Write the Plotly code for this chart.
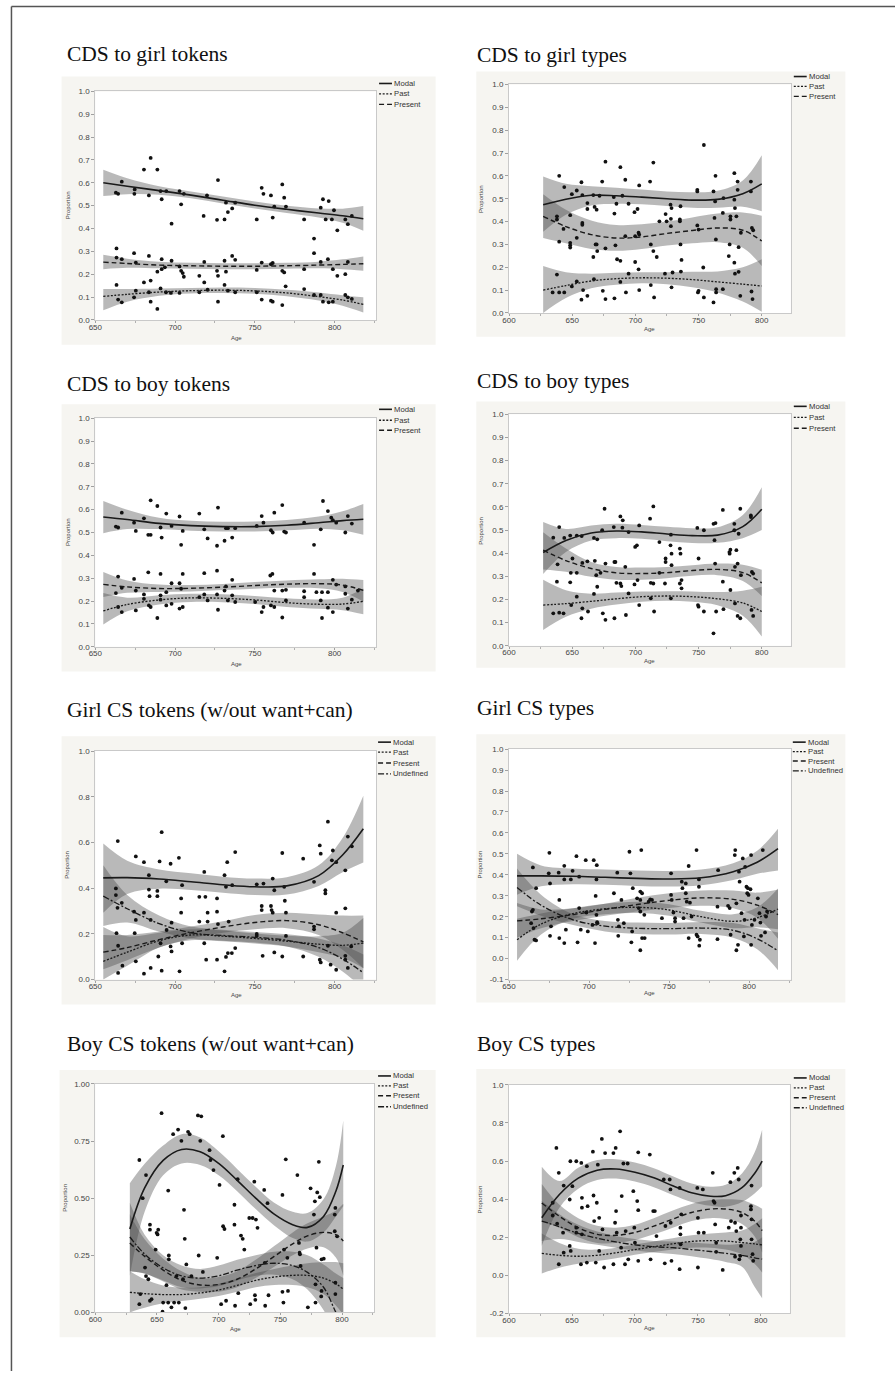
import plotly.graph_objects as go

W, H = 895, 1376

# ---------------- Panel 1: CDS to girl tokens ----------------
p1_age = [655, 670, 690, 710, 730, 750, 770, 790, 805, 818]
p1_modal = [0.600, 0.585, 0.566, 0.546, 0.524, 0.502, 0.484, 0.468, 0.456, 0.443]
p1_modal_lo = [0.542, 0.550, 0.548, 0.532, 0.510, 0.488, 0.468, 0.448, 0.425, 0.390]
p1_modal_hi = [0.657, 0.620, 0.585, 0.562, 0.540, 0.518, 0.500, 0.488, 0.487, 0.498]
p1_past = [0.103, 0.112, 0.122, 0.128, 0.130, 0.127, 0.118, 0.102, 0.087, 0.068]
p1_past_lo = [0.042, 0.080, 0.106, 0.116, 0.118, 0.115, 0.104, 0.085, 0.062, 0.033]
p1_past_hi = [0.135, 0.135, 0.137, 0.140, 0.142, 0.140, 0.132, 0.120, 0.108, 0.099]
p1_present = [0.253, 0.247, 0.240, 0.237, 0.235, 0.235, 0.237, 0.240, 0.243, 0.246]
p1_present_lo = [0.222, 0.228, 0.226, 0.224, 0.222, 0.222, 0.224, 0.226, 0.222, 0.215]
p1_present_hi = [0.285, 0.268, 0.255, 0.250, 0.248, 0.248, 0.250, 0.255, 0.265, 0.278]
p1_points = [
    (662.9, 0.557), (664.3, 0.552), (666.6, 0.605), (674.7, 0.571), (674.5, 0.552), (680.5, 0.658),
    (684.7, 0.709), (683.6, 0.545), (688.9, 0.658), (690.9, 0.564), (691.6, 0.528), (694.5, 0.564),
    (697.8, 0.421), (702.8, 0.564), (703.8, 0.506), (705.5, 0.552), (720.0, 0.545), (717.9, 0.455),
    (726.3, 0.438), (726.9, 0.612), (731.0, 0.440), (731.9, 0.513), (733.1, 0.472), (735.8, 0.488),
    (737.7, 0.513), (751.2, 0.440), (754.3, 0.578), (755.4, 0.552), (760.1, 0.545), (761.2, 0.448),
    (762.2, 0.496), (767.2, 0.593), (768.4, 0.535), (769.5, 0.496), (780.9, 0.440), (787.1, 0.356),
    (791.3, 0.491), (792.7, 0.528), (794.4, 0.440), (796.3, 0.520), (798.3, 0.440), (799.6, 0.480),
    (801.7, 0.392), (806.7, 0.440), (808.3, 0.419), (810.8, 0.455),
    (663.3, 0.313), (663.3, 0.273), (666.6, 0.266), (674.3, 0.292), (675.4, 0.251), (683.6, 0.280),
    (691.6, 0.266), (693.6, 0.230), (688.9, 0.211), (691.6, 0.222), (697.8, 0.259), (702.8, 0.234),
    (703.8, 0.215), (704.8, 0.205), (705.5, 0.189), (715.2, 0.193), (718.3, 0.254), (726.3, 0.215),
    (726.9, 0.193), (731.0, 0.259), (731.9, 0.211), (735.8, 0.280), (737.7, 0.263), (751.2, 0.219),
    (754.3, 0.251), (760.1, 0.244), (761.2, 0.249), (767.2, 0.215), (768.4, 0.208), (780.9, 0.222),
    (787.1, 0.292), (791.3, 0.254), (795.8, 0.266), (798.9, 0.222), (801.7, 0.193), (806.7, 0.200),
    (808.3, 0.254),
    (663.3, 0.153), (664.3, 0.089), (666.6, 0.077), (674.3, 0.099), (675.4, 0.128), (680.5, 0.164),
    (683.6, 0.121), (684.7, 0.172), (684.7, 0.080), (688.9, 0.048), (690.9, 0.138), (694.3, 0.121),
    (697.4, 0.118), (702.8, 0.118), (715.2, 0.121), (718.3, 0.164), (720.4, 0.132), (726.9, 0.080),
    (731.0, 0.153), (733.1, 0.128), (737.7, 0.121), (751.2, 0.121), (754.3, 0.089), (760.1, 0.084),
    (761.2, 0.080), (767.2, 0.065), (769.3, 0.147), (780.9, 0.135), (787.1, 0.109), (791.3, 0.109),
    (792.7, 0.080), (796.3, 0.077), (798.9, 0.080), (806.7, 0.109), (808.3, 0.099), (810.8, 0.092),
]

# ---------------- Panel 2: CDS to girl types ----------------
p2_age = [627, 645, 665, 685, 705, 725, 745, 765, 785, 800]
p2_modal = [0.474, 0.498, 0.515, 0.513, 0.507, 0.500, 0.494, 0.497, 0.522, 0.565]
p2_modal_lo = [0.355, 0.430, 0.470, 0.478, 0.476, 0.468, 0.460, 0.460, 0.465, 0.445]
p2_modal_hi = [0.597, 0.565, 0.555, 0.548, 0.540, 0.532, 0.528, 0.535, 0.580, 0.690]
p2_past = [0.100, 0.120, 0.140, 0.150, 0.154, 0.152, 0.146, 0.136, 0.126, 0.118]
p2_past_lo = [0.000, 0.065, 0.108, 0.124, 0.130, 0.126, 0.112, 0.090, 0.050, 0.005]
p2_past_hi = [0.205, 0.178, 0.172, 0.176, 0.178, 0.178, 0.180, 0.182, 0.200, 0.235]
p2_present = [0.423, 0.378, 0.343, 0.328, 0.333, 0.348, 0.361, 0.372, 0.362, 0.315]
p2_present_lo = [0.328, 0.305, 0.280, 0.272, 0.280, 0.295, 0.305, 0.310, 0.285, 0.205]
p2_present_hi = [0.520, 0.452, 0.405, 0.385, 0.388, 0.400, 0.418, 0.435, 0.440, 0.425]
p2_points = [
    (634.5, 0.090), (637.9, 0.168), (639.7, 0.090), (637.9, 0.423), (637.9, 0.409), (639.7, 0.600),
    (639.7, 0.312), (643.7, 0.090), (643.7, 0.551), (643.1, 0.368), (648.4, 0.307), (648.4, 0.428),
    (648.4, 0.296), (648.4, 0.286), (649.7, 0.116), (649.7, 0.520), (653.6, 0.329), (653.6, 0.536),
    (653.6, 0.138), (657.3, 0.058), (657.3, 0.572), (658.0, 0.516), (658.0, 0.394), (658.0, 0.386),
    (658.6, 0.100), (662.0, 0.075), (662.0, 0.455), (662.0, 0.481), (666.7, 0.516), (666.7, 0.245),
    (667.2, 0.148), (667.7, 0.464), (668.5, 0.300), (669.3, 0.452), (669.3, 0.300), (669.8, 0.271),
    (671.6, 0.513), (673.7, 0.575), (674.2, 0.097), (676.3, 0.061), (676.3, 0.662), (676.3, 0.283),
    (682.9, 0.507), (683.4, 0.064), (683.4, 0.435), (684.2, 0.296), (685.0, 0.478), (685.5, 0.235),
    (688.1, 0.638), (688.1, 0.228), (688.1, 0.136), (689.7, 0.513), (692.0, 0.336), (692.0, 0.583),
    (692.5, 0.090), (694.6, 0.478), (694.6, 0.172), (699.3, 0.441), (699.8, 0.223), (699.8, 0.336),
    (701.7, 0.455), (702.5, 0.191), (702.5, 0.351), (703.0, 0.558), (703.0, 0.100), (703.0, 0.343),
    (711.6, 0.575), (712.2, 0.122), (712.2, 0.300), (714.2, 0.658), (714.2, 0.271), (714.8, 0.068),
    (716.9, 0.245), (719.0, 0.401), (723.4, 0.172), (723.9, 0.433), (724.7, 0.401), (728.1, 0.412),
    (727.8, 0.474), (728.1, 0.380), (728.6, 0.459), (728.6, 0.112), (729.4, 0.177), (735.2, 0.409),
    (735.2, 0.401), (735.7, 0.300), (735.7, 0.467), (736.0, 0.181), (736.5, 0.232), (749.0, 0.539),
    (749.0, 0.532), (749.0, 0.383), (749.5, 0.090), (750.0, 0.097), (750.0, 0.365), (753.7, 0.199),
    (754.2, 0.735), (754.2, 0.068), (761.8, 0.532), (761.8, 0.046), (762.6, 0.416), (763.1, 0.488),
    (763.4, 0.600), (763.7, 0.322), (763.9, 0.104), (763.9, 0.090), (769.2, 0.104), (769.2, 0.438),
    (769.7, 0.503), (773.9, 0.249), (774.6, 0.300), (775.2, 0.423), (775.2, 0.409), (778.3, 0.612),
    (778.3, 0.496), (778.3, 0.220), (778.8, 0.459), (778.8, 0.172), (779.9, 0.423), (780.9, 0.539),
    (780.9, 0.575), (781.7, 0.180), (781.7, 0.288), (783.0, 0.075), (783.5, 0.351), (791.4, 0.575),
    (791.4, 0.532), (792.2, 0.372), (793.2, 0.362), (791.9, 0.094), (792.7, 0.061),
]

# ---------------- Panel 3: CDS to boy tokens ----------------
p3_age = [655, 670, 690, 710, 730, 750, 770, 790, 805, 818]
p3_modal = [0.568, 0.557, 0.540, 0.530, 0.526, 0.526, 0.532, 0.543, 0.552, 0.558]
p3_modal_lo = [0.497, 0.515, 0.515, 0.508, 0.505, 0.505, 0.510, 0.517, 0.510, 0.490]
p3_modal_hi = [0.638, 0.600, 0.565, 0.552, 0.547, 0.548, 0.555, 0.570, 0.593, 0.625]
p3_past = [0.157, 0.185, 0.205, 0.214, 0.212, 0.205, 0.193, 0.186, 0.187, 0.199]
p3_past_lo = [0.097, 0.155, 0.185, 0.196, 0.195, 0.187, 0.174, 0.166, 0.160, 0.142]
p3_past_hi = [0.235, 0.215, 0.226, 0.232, 0.230, 0.222, 0.212, 0.207, 0.215, 0.255]
p3_present = [0.273, 0.262, 0.255, 0.256, 0.261, 0.268, 0.274, 0.276, 0.270, 0.247]
p3_present_lo = [0.218, 0.236, 0.240, 0.242, 0.248, 0.254, 0.258, 0.256, 0.240, 0.198]
p3_present_hi = [0.327, 0.290, 0.272, 0.270, 0.275, 0.283, 0.290, 0.295, 0.298, 0.292]
p3_points = [
    (662.9, 0.526), (664.3, 0.522), (666.6, 0.587), (674.3, 0.543), (675.4, 0.507), (680.5, 0.562),
    (683.2, 0.490), (684.7, 0.641), (684.7, 0.490), (688.9, 0.616), (690.9, 0.522), (691.6, 0.478),
    (694.5, 0.583), (697.8, 0.529), (702.8, 0.570), (703.8, 0.446), (704.8, 0.507), (715.2, 0.583),
    (718.3, 0.514), (720.4, 0.474), (726.3, 0.442), (726.9, 0.609), (731.0, 0.464), (731.9, 0.519),
    (733.1, 0.519), (735.8, 0.478), (737.7, 0.519), (751.2, 0.529), (754.3, 0.572), (755.4, 0.543),
    (760.1, 0.510), (761.2, 0.500), (762.2, 0.587), (767.2, 0.620), (768.4, 0.504), (769.5, 0.500),
    (780.9, 0.543), (787.1, 0.446), (791.3, 0.514), (792.7, 0.638), (795.8, 0.594), (797.9, 0.565),
    (798.9, 0.554), (801.0, 0.543), (806.7, 0.500), (808.3, 0.572), (810.8, 0.539),
    (662.9, 0.235), (664.3, 0.307), (664.3, 0.174), (666.6, 0.258), (666.6, 0.152), (674.3, 0.297),
    (675.4, 0.246), (675.4, 0.159), (680.5, 0.229), (680.5, 0.210), (683.2, 0.326), (683.6, 0.181),
    (684.7, 0.174), (688.9, 0.126), (690.9, 0.319), (690.9, 0.225), (690.9, 0.206), (694.5, 0.239),
    (694.5, 0.181), (697.8, 0.278), (697.8, 0.188), (702.8, 0.278), (702.8, 0.167), (703.8, 0.254),
    (704.8, 0.319), (704.8, 0.174), (715.2, 0.217), (718.3, 0.322), (718.3, 0.229), (720.4, 0.203),
    (726.3, 0.333), (726.3, 0.229), (726.9, 0.162), (731.0, 0.246), (731.9, 0.264), (733.1, 0.203),
    (735.8, 0.293), (735.8, 0.225), (737.7, 0.196), (750.2, 0.196), (754.3, 0.152), (755.4, 0.174),
    (759.7, 0.312), (761.0, 0.319), (760.1, 0.181), (762.2, 0.246), (762.2, 0.174), (767.2, 0.128),
    (767.2, 0.246), (769.5, 0.249), (769.5, 0.203), (780.9, 0.243), (780.9, 0.217), (787.1, 0.319),
    (788.6, 0.239), (791.3, 0.203), (792.1, 0.126), (792.1, 0.239), (795.8, 0.239), (795.8, 0.171),
    (798.9, 0.293), (798.9, 0.152), (801.0, 0.272), (806.7, 0.264), (806.7, 0.232), (808.3, 0.167),
    (810.8, 0.206), (814.6, 0.246),
]

# ---------------- Panel 4: CDS to boy types ----------------
p4_age = [627, 645, 665, 685, 705, 725, 745, 765, 785, 800]
p4_modal = [0.403, 0.455, 0.487, 0.496, 0.492, 0.483, 0.476, 0.478, 0.515, 0.590]
p4_modal_lo = [0.310, 0.405, 0.455, 0.465, 0.462, 0.452, 0.444, 0.445, 0.465, 0.500]
p4_modal_hi = [0.535, 0.505, 0.520, 0.527, 0.522, 0.514, 0.508, 0.512, 0.565, 0.685]
p4_past = [0.176, 0.182, 0.192, 0.203, 0.212, 0.215, 0.212, 0.203, 0.185, 0.148]
p4_past_lo = [0.068, 0.125, 0.160, 0.178, 0.190, 0.194, 0.190, 0.175, 0.130, 0.040]
p4_past_hi = [0.285, 0.240, 0.225, 0.230, 0.234, 0.236, 0.235, 0.232, 0.238, 0.255]
p4_present = [0.413, 0.368, 0.334, 0.315, 0.312, 0.316, 0.325, 0.330, 0.316, 0.272]
p4_present_lo = [0.330, 0.320, 0.298, 0.285, 0.285, 0.292, 0.302, 0.305, 0.280, 0.215]
p4_present_hi = [0.490, 0.420, 0.362, 0.340, 0.338, 0.340, 0.348, 0.355, 0.350, 0.328]
p4_points = [
    (635.0, 0.467), (635.0, 0.140), (639.7, 0.513), (637.9, 0.277), (638.4, 0.352), (639.7, 0.143),
    (643.1, 0.140), (643.7, 0.466), (648.4, 0.476), (648.4, 0.274), (648.9, 0.315), (649.2, 0.176),
    (650.2, 0.377), (653.6, 0.476), (653.6, 0.212), (653.6, 0.315), (657.3, 0.119), (657.5, 0.474),
    (658.0, 0.162), (658.0, 0.358), (662.0, 0.365), (662.5, 0.148), (667.2, 0.466), (667.2, 0.224),
    (667.9, 0.367), (669.0, 0.305), (669.8, 0.460), (669.8, 0.255), (672.4, 0.315), (673.7, 0.499),
    (674.2, 0.140), (675.6, 0.592), (676.3, 0.112), (676.3, 0.355), (682.9, 0.513), (683.4, 0.119),
    (683.4, 0.362), (684.2, 0.362), (685.0, 0.272), (688.1, 0.269), (688.1, 0.559), (688.9, 0.258),
    (689.7, 0.510), (690.0, 0.542), (692.0, 0.341), (692.5, 0.133), (694.6, 0.226), (694.6, 0.491),
    (699.3, 0.265), (699.8, 0.427), (701.2, 0.434), (701.7, 0.284), (703.0, 0.176), (703.0, 0.520),
    (711.6, 0.549), (712.2, 0.272), (712.2, 0.205), (714.2, 0.602), (714.2, 0.269), (714.8, 0.148),
    (719.0, 0.448), (719.0, 0.315), (723.4, 0.269), (723.9, 0.377), (723.9, 0.362), (727.8, 0.434),
    (728.1, 0.480), (728.1, 0.205), (728.6, 0.398), (728.6, 0.348), (735.2, 0.420), (735.2, 0.269),
    (735.7, 0.398), (736.5, 0.284), (736.5, 0.248), (749.0, 0.509), (749.5, 0.176), (750.0, 0.169),
    (750.0, 0.377), (754.2, 0.148), (754.2, 0.499), (761.8, 0.527), (761.8, 0.054), (762.6, 0.456),
    (763.1, 0.355), (763.4, 0.530), (763.9, 0.148), (769.2, 0.587), (769.2, 0.277), (769.7, 0.158),
    (774.4, 0.405), (774.6, 0.398), (775.2, 0.241), (775.2, 0.415), (778.3, 0.527), (778.3, 0.499),
    (778.8, 0.341), (778.8, 0.183), (779.9, 0.413), (780.9, 0.355), (780.9, 0.129), (781.7, 0.484),
    (783.0, 0.592), (783.0, 0.119), (783.5, 0.305), (791.4, 0.563), (791.4, 0.556), (792.2, 0.319),
    (793.2, 0.312), (791.9, 0.155), (793.2, 0.129),
]

# ---------------- Panel 5: Girl CS tokens (w/out want+can) ----------------
p5_age = [655, 670, 690, 710, 730, 750, 770, 790, 805, 818]
p5_modal = [0.445, 0.446, 0.440, 0.428, 0.415, 0.406, 0.410, 0.455, 0.545, 0.660]
p5_modal_lo = [0.293, 0.375, 0.398, 0.392, 0.380, 0.370, 0.372, 0.410, 0.470, 0.512]
p5_modal_hi = [0.595, 0.520, 0.482, 0.465, 0.450, 0.442, 0.448, 0.500, 0.620, 0.805]
p5_past = [0.080, 0.120, 0.170, 0.195, 0.190, 0.180, 0.168, 0.155, 0.150, 0.160]
p5_past_lo = [0.000, 0.060, 0.140, 0.172, 0.168, 0.158, 0.145, 0.120, 0.095, 0.050]
p5_past_hi = [0.230, 0.190, 0.205, 0.220, 0.215, 0.202, 0.192, 0.190, 0.205, 0.270]
p5_present = [0.120, 0.140, 0.175, 0.205, 0.230, 0.250, 0.258, 0.240, 0.205, 0.165]
p5_present_lo = [0.045, 0.085, 0.140, 0.180, 0.205, 0.220, 0.225, 0.195, 0.130, 0.050]
p5_present_hi = [0.195, 0.195, 0.210, 0.232, 0.255, 0.283, 0.292, 0.285, 0.280, 0.280]
p5_undef = [0.365, 0.310, 0.245, 0.205, 0.193, 0.185, 0.172, 0.140, 0.090, 0.030]
p5_undef_lo = [0.235, 0.250, 0.210, 0.180, 0.170, 0.162, 0.145, 0.100, 0.035, -0.040]
p5_undef_hi = [0.500, 0.370, 0.280, 0.232, 0.218, 0.208, 0.198, 0.180, 0.150, 0.110]
p5_points = [
    (664.1, 0.606), (662.9, 0.399), (662.9, 0.370), (663.9, 0.314), (663.3, 0.203), (664.3, 0.148),
    (664.3, 0.029), (666.6, 0.336), (667.0, 0.061), (674.3, 0.297), (675.4, 0.539), (675.4, 0.261),
    (675.4, 0.080), (674.7, 0.203), (680.5, 0.514), (680.5, 0.293), (680.5, 0.026), (683.6, 0.457),
    (683.6, 0.394), (684.0, 0.365), (684.7, 0.051), (684.7, 0.261), (688.9, 0.388), (688.9, 0.365),
    (689.5, 0.101), (690.3, 0.517), (690.9, 0.159), (691.6, 0.039), (691.6, 0.645), (694.5, 0.430),
    (694.7, 0.217), (697.2, 0.507), (697.2, 0.145), (697.8, 0.123), (697.8, 0.249), (702.4, 0.533),
    (702.8, 0.036), (703.8, 0.355), (703.8, 0.293), (704.4, 0.159), (704.4, 0.413), (715.2, 0.362),
    (715.2, 0.254), (718.3, 0.471), (718.3, 0.159), (719.0, 0.362), (719.5, 0.087), (720.4, 0.293),
    (720.4, 0.254), (726.3, 0.355), (726.3, 0.087), (726.3, 0.297), (726.9, 0.243), (731.0, 0.457),
    (731.0, 0.036), (731.9, 0.406), (731.9, 0.099), (732.7, 0.514), (733.1, 0.116), (733.6, 0.254),
    (735.6, 0.116), (735.8, 0.413), (737.7, 0.558), (737.7, 0.138), (751.2, 0.417), (751.2, 0.200),
    (751.2, 0.191), (754.3, 0.322), (754.3, 0.304), (754.9, 0.104), (755.4, 0.420), (760.1, 0.322),
    (760.5, 0.304), (761.2, 0.442), (761.2, 0.293), (762.2, 0.391), (762.2, 0.119), (767.2, 0.554),
    (767.2, 0.101), (768.4, 0.406), (768.8, 0.345), (769.5, 0.293), (769.5, 0.191), (780.3, 0.529),
    (780.3, 0.101), (787.1, 0.428), (787.1, 0.220), (787.1, 0.232), (790.7, 0.587), (790.7, 0.087),
    (791.3, 0.551), (791.3, 0.075), (794.2, 0.391), (794.2, 0.377), (795.8, 0.691), (795.8, 0.148),
    (797.5, 0.065), (798.3, 0.522), (798.9, 0.565), (801.0, 0.514), (801.0, 0.293), (801.0, 0.043),
    (806.7, 0.478), (806.7, 0.312), (806.7, 0.104), (806.7, 0.087), (808.3, 0.626), (808.3, 0.051),
    (810.8, 0.583), (810.4, 0.145),
]

# ---------------- Panel 6: Girl CS types ----------------
p6_age = [655, 670, 690, 710, 730, 750, 770, 790, 805, 818]
p6_modal = [0.395, 0.395, 0.393, 0.388, 0.383, 0.380, 0.386, 0.415, 0.460, 0.525]
p6_modal_lo = [0.305, 0.345, 0.355, 0.352, 0.347, 0.344, 0.350, 0.375, 0.405, 0.420]
p6_modal_hi = [0.500, 0.445, 0.430, 0.425, 0.420, 0.418, 0.425, 0.455, 0.515, 0.620]
p6_past = [0.090, 0.165, 0.215, 0.238, 0.245, 0.232, 0.200, 0.178, 0.195, 0.237]
p6_past_lo = [-0.010, 0.115, 0.190, 0.212, 0.218, 0.205, 0.172, 0.145, 0.150, 0.140]
p6_past_hi = [0.190, 0.215, 0.240, 0.262, 0.272, 0.260, 0.228, 0.212, 0.245, 0.335]
p6_present = [0.180, 0.190, 0.210, 0.235, 0.258, 0.278, 0.290, 0.283, 0.255, 0.210]
p6_present_lo = [0.100, 0.145, 0.180, 0.205, 0.225, 0.242, 0.252, 0.240, 0.195, 0.095]
p6_present_hi = [0.265, 0.235, 0.240, 0.262, 0.290, 0.312, 0.325, 0.325, 0.315, 0.330]
p6_undef = [0.340, 0.255, 0.185, 0.155, 0.145, 0.143, 0.146, 0.135, 0.095, 0.037]
p6_undef_lo = [0.250, 0.205, 0.160, 0.130, 0.118, 0.115, 0.118, 0.100, 0.045, -0.055]
p6_undef_hi = [0.430, 0.305, 0.212, 0.180, 0.172, 0.170, 0.175, 0.170, 0.145, 0.125]
p6_points = [
    (663.8, 0.169), (664.3, 0.225), (664.9, 0.233), (664.9, 0.435), (665.3, 0.146), (665.9, 0.090),
    (666.9, 0.087), (666.9, 0.336), (675.2, 0.505), (674.8, 0.407), (675.6, 0.359), (675.6, 0.109),
    (676.2, 0.154), (681.4, 0.098), (681.4, 0.280), (681.0, 0.410), (684.5, 0.443), (684.5, 0.378),
    (684.5, 0.074), (685.5, 0.138), (688.6, 0.378), (689.7, 0.419), (692.1, 0.489), (692.8, 0.078),
    (693.8, 0.241), (694.8, 0.138), (693.8, 0.391), (698.3, 0.220), (697.9, 0.470), (699.2, 0.130),
    (702.1, 0.161), (702.9, 0.470), (704.1, 0.299), (704.8, 0.446), (704.6, 0.378), (703.7, 0.074),
    (704.6, 0.209), (705.0, 0.174), (705.2, 0.169), (715.5, 0.312), (717.6, 0.410), (718.0, 0.185),
    (718.2, 0.109), (718.6, 0.154), (720.2, 0.280), (721.7, 0.169), (725.2, 0.510), (725.8, 0.407),
    (726.9, 0.130), (726.4, 0.078), (727.3, 0.336), (730.0, 0.288), (731.0, 0.241), (732.0, 0.320),
    (732.0, 0.280), (732.0, 0.225), (732.6, 0.518), (733.1, 0.098), (733.1, 0.312), (734.5, 0.209),
    (732.0, 0.040), (734.7, 0.098), (737.2, 0.272), (738.2, 0.283), (739.3, 0.280), (745.5, 0.193),
    (751.2, 0.407), (751.2, 0.304), (751.6, 0.280), (752.7, 0.220), (753.7, 0.193), (753.7, 0.177),
    (757.9, 0.367), (758.3, 0.336), (759.0, 0.193), (760.4, 0.359), (760.4, 0.312), (761.0, 0.272),
    (762.2, 0.442), (762.2, 0.098), (763.0, 0.267), (764.0, 0.201), (767.1, 0.518), (767.1, 0.114),
    (767.8, 0.106), (768.6, 0.378), (768.6, 0.343), (769.2, 0.090), (768.8, 0.062), (780.2, 0.248),
    (780.2, 0.093), (780.6, 0.422), (786.8, 0.252), (787.8, 0.241), (788.4, 0.114), (791.0, 0.494),
    (791.3, 0.518), (792.0, 0.264), (792.0, 0.040), (793.0, 0.066), (793.6, 0.415), (794.0, 0.367),
    (795.2, 0.217), (796.0, 0.478), (796.7, 0.106), (797.1, 0.185), (797.5, 0.438), (798.3, 0.343),
    (798.8, 0.312), (799.2, 0.336), (799.6, 0.304), (800.8, 0.331), (801.2, 0.494), (801.2, 0.066),
    (801.7, 0.161), (803.3, 0.185), (805.4, 0.288), (806.4, 0.217), (807.0, 0.172), (807.4, 0.109),
    (808.5, 0.518), (809.9, 0.125), (810.5, 0.201), (811.2, 0.225),
]

# ---------------- Panel 7: Boy CS tokens (w/out want+can) ----------------
p7_age = [628, 640, 655, 670, 685, 700, 715, 730, 745, 760, 772, 785, 795, 801]
p7_modal = [0.365, 0.545, 0.665, 0.713, 0.703, 0.652, 0.578, 0.500, 0.430, 0.384, 0.372, 0.420, 0.530, 0.645]
p7_modal_lo = [0.160, 0.440, 0.600, 0.652, 0.645, 0.600, 0.530, 0.452, 0.380, 0.325, 0.310, 0.350, 0.420, 0.465]
p7_modal_hi = [0.565, 0.650, 0.730, 0.780, 0.765, 0.705, 0.628, 0.550, 0.480, 0.440, 0.435, 0.495, 0.640, 0.840]
p7_past = [0.088, 0.082, 0.078, 0.078, 0.085, 0.098, 0.118, 0.140, 0.155, 0.162, 0.162, 0.150, 0.125, 0.102]
p7_past_lo = [0.000, 0.020, 0.040, 0.050, 0.060, 0.072, 0.090, 0.110, 0.120, 0.120, 0.110, 0.080, 0.030, -0.010]
p7_past_hi = [0.180, 0.145, 0.118, 0.108, 0.110, 0.125, 0.148, 0.172, 0.190, 0.205, 0.215, 0.220, 0.220, 0.215]
p7_present = [0.304, 0.245, 0.185, 0.140, 0.120, 0.122, 0.145, 0.190, 0.245, 0.300, 0.335, 0.350, 0.340, 0.312]
p7_present_lo = [0.180, 0.170, 0.135, 0.100, 0.090, 0.090, 0.110, 0.150, 0.200, 0.250, 0.280, 0.285, 0.240, 0.160]
p7_present_hi = [0.430, 0.320, 0.235, 0.180, 0.150, 0.155, 0.180, 0.230, 0.290, 0.350, 0.390, 0.420, 0.445, 0.475]
p7_undef = [0.330, 0.255, 0.195, 0.160, 0.150, 0.160, 0.185, 0.205, 0.215, 0.205, 0.175, 0.110, 0.000, -0.060]
p7_undef_lo = [0.180, 0.170, 0.140, 0.110, 0.105, 0.115, 0.140, 0.160, 0.165, 0.145, 0.100, 0.010, -0.100, -0.170]
p7_undef_hi = [0.480, 0.340, 0.250, 0.205, 0.190, 0.205, 0.230, 0.250, 0.265, 0.265, 0.250, 0.210, 0.170, 0.150]
p7_points = [
    (635.7, 0.667), (638.4, 0.500), (641.1, 0.601), (644.3, 0.384), (644.3, 0.362), (635.7, 0.036),
    (636.5, 0.080), (640.3, 0.196), (641.1, 0.159), (644.3, 0.051), (643.0, 0.145), (645.6, 0.058),
    (648.9, 0.275), (649.7, 0.348), (650.5, 0.341), (651.0, 0.362), (653.7, 0.872), (654.5, 0.003),
    (655.0, 0.043), (657.7, 0.119), (659.1, 0.043), (659.1, 0.533), (659.6, 0.249), (659.6, 0.232),
    (661.7, 0.022), (663.1, 0.780), (663.9, 0.043), (665.8, 0.159), (667.1, 0.800), (667.7, 0.043),
    (669.8, 0.751), (671.1, 0.145), (671.9, 0.449), (672.5, 0.322), (673.0, 0.019), (673.8, 0.210),
    (675.2, 0.790), (676.5, 0.780), (677.9, 0.159), (683.2, 0.862), (685.9, 0.858), (683.8, 0.249),
    (685.1, 0.751), (687.2, 0.177), (692.6, 0.710), (693.4, 0.667), (695.8, 0.623), (698.8, 0.239),
    (700.7, 0.558), (702.0, 0.036), (703.4, 0.771), (703.6, 0.377), (704.7, 0.365), (706.0, 0.051),
    (712.8, 0.471), (712.8, 0.384), (713.3, 0.029), (715.4, 0.583), (715.9, 0.084), (718.1, 0.336),
    (719.5, 0.322), (720.8, 0.275), (724.8, 0.413), (725.6, 0.036), (727.5, 0.413), (728.9, 0.572),
    (729.4, 0.075), (729.7, 0.055), (730.2, 0.406), (731.5, 0.370), (736.9, 0.536), (737.4, 0.217),
    (737.7, 0.029), (739.6, 0.478), (740.4, 0.075), (751.7, 0.514), (751.7, 0.090), (752.5, 0.043),
    (753.0, 0.275), (754.4, 0.670), (755.7, 0.239), (756.2, 0.094), (763.8, 0.601), (765.1, 0.304),
    (765.6, 0.261), (765.9, 0.254), (766.4, 0.203), (772.3, 0.022), (774.5, 0.543), (777.2, 0.428),
    (778.0, 0.486), (779.9, 0.525), (778.5, 0.043), (778.5, 0.123), (779.3, 0.283), (781.2, 0.659),
    (782.0, 0.504), (783.4, 0.232), (783.4, 0.094), (783.1, 0.070), (785.2, 0.235), (794.6, 0.130),
    (794.6, 0.080), (794.6, 0.457), (794.1, 0.428), (794.1, 0.355), (796.0, 0.333),
]

# ---------------- Panel 8: Boy CS types ----------------
p8_age = [626, 640, 655, 670, 685, 700, 715, 730, 745, 760, 772, 785, 795, 801]
p8_modal = [0.302, 0.424, 0.510, 0.552, 0.558, 0.541, 0.512, 0.470, 0.433, 0.415, 0.418, 0.460, 0.535, 0.600]
p8_modal_lo = [0.155, 0.355, 0.455, 0.500, 0.508, 0.492, 0.462, 0.422, 0.385, 0.365, 0.360, 0.385, 0.430, 0.468]
p8_modal_hi = [0.570, 0.495, 0.565, 0.605, 0.610, 0.592, 0.562, 0.520, 0.482, 0.465, 0.475, 0.535, 0.645, 0.765]
p8_past = [0.115, 0.105, 0.100, 0.105, 0.118, 0.135, 0.150, 0.165, 0.178, 0.182, 0.180, 0.172, 0.165, 0.160]
p8_past_lo = [0.010, 0.040, 0.060, 0.075, 0.090, 0.108, 0.122, 0.135, 0.145, 0.145, 0.135, 0.110, 0.060, 0.015]
p8_past_hi = [0.220, 0.170, 0.140, 0.135, 0.145, 0.162, 0.178, 0.195, 0.210, 0.220, 0.225, 0.235, 0.270, 0.300]
p8_present = [0.380, 0.310, 0.250, 0.215, 0.210, 0.225, 0.258, 0.295, 0.330, 0.348, 0.348, 0.330, 0.285, 0.235]
p8_present_lo = [0.280, 0.250, 0.200, 0.170, 0.170, 0.185, 0.215, 0.250, 0.285, 0.300, 0.295, 0.270, 0.205, 0.120]
p8_present_hi = [0.480, 0.370, 0.300, 0.260, 0.250, 0.265, 0.300, 0.340, 0.375, 0.395, 0.400, 0.395, 0.370, 0.350]
p8_undef = [0.285, 0.255, 0.220, 0.195, 0.175, 0.160, 0.150, 0.145, 0.135, 0.125, 0.115, 0.105, 0.092, 0.085]
p8_undef_lo = [0.180, 0.190, 0.175, 0.160, 0.145, 0.130, 0.120, 0.112, 0.100, 0.085, 0.070, 0.045, -0.060, -0.120]
p8_undef_hi = [0.390, 0.320, 0.265, 0.230, 0.205, 0.190, 0.180, 0.178, 0.172, 0.165, 0.160, 0.165, 0.175, 0.200]
p8_points = [
    (634.7, 0.314), (634.7, 0.381), (637.6, 0.669), (639.5, 0.538), (639.5, 0.058), (638.2, 0.271),
    (643.4, 0.119), (643.4, 0.471), (642.9, 0.224), (648.2, 0.398), (648.2, 0.154), (648.7, 0.599),
    (649.0, 0.128), (650.3, 0.468), (653.4, 0.599), (653.4, 0.250), (653.4, 0.224), (657.4, 0.590),
    (657.1, 0.058), (657.9, 0.355), (657.9, 0.407), (657.9, 0.215), (661.8, 0.067), (661.8, 0.573),
    (662.4, 0.363), (666.6, 0.649), (667.1, 0.419), (667.6, 0.285), (668.9, 0.067), (669.7, 0.381),
    (670.5, 0.581), (671.6, 0.128), (671.6, 0.302), (673.7, 0.716), (674.2, 0.241), (675.5, 0.041),
    (676.3, 0.642), (682.9, 0.642), (682.9, 0.058), (684.2, 0.276), (684.7, 0.669), (685.0, 0.337),
    (685.5, 0.224), (688.2, 0.756), (689.0, 0.145), (689.5, 0.416), (690.8, 0.587), (692.1, 0.058),
    (692.6, 0.232), (694.2, 0.587), (694.7, 0.084), (698.7, 0.442), (699.5, 0.250), (700.0, 0.171),
    (701.8, 0.390), (702.6, 0.342), (702.6, 0.646), (702.6, 0.076), (711.8, 0.634), (712.4, 0.084),
    (714.5, 0.337), (715.8, 0.337), (717.1, 0.206), (722.9, 0.503), (723.7, 0.063), (724.2, 0.259),
    (727.6, 0.503), (728.2, 0.451), (728.4, 0.276), (729.0, 0.076), (735.5, 0.459), (735.5, 0.032),
    (736.1, 0.250), (736.1, 0.215), (736.8, 0.320), (736.3, 0.163), (749.5, 0.459), (750.0, 0.302),
    (750.0, 0.041), (750.5, 0.224), (753.9, 0.451), (754.7, 0.224), (761.8, 0.538), (762.4, 0.390),
    (763.2, 0.381), (763.7, 0.267), (764.5, 0.171), (764.5, 0.123), (769.7, 0.028), (774.5, 0.250),
    (775.8, 0.489), (776.3, 0.285), (778.9, 0.538), (779.5, 0.098), (779.5, 0.276), (780.5, 0.232),
    (781.6, 0.564), (782.4, 0.503), (782.9, 0.084), (783.7, 0.102), (784.2, 0.154), (783.7, 0.189),
    (784.2, 0.314), (784.2, 0.250), (792.1, 0.363), (792.1, 0.346), (792.6, 0.471), (792.6, 0.294),
    (792.6, 0.189), (793.4, 0.111), (793.9, 0.076),
]

# ---------------- Tick labels ----------------
x_ticks_650 = [650, 700, 750, 800]
x_ticks_600 = [600, 650, 700, 750, 800]
y_ticks_01 = [0.0, 0.1, 0.2, 0.3, 0.4, 0.5, 0.6, 0.7, 0.8, 0.9, 1.0]
y_text_01 = ["0.0", "0.1", "0.2", "0.3", "0.4", "0.5", "0.6", "0.7", "0.8", "0.9", "1.0"]
y_ticks_02 = [0.0, 0.2, 0.4, 0.6, 0.8, 1.0]
y_text_02 = ["0.0", "0.2", "0.4", "0.6", "0.8", "1.0"]
y_ticks_m01 = [-0.1, 0.0, 0.1, 0.2, 0.3, 0.4, 0.5, 0.6, 0.7, 0.8, 0.9, 1.0]
y_text_m01 = ["-0.1", "0.0", "0.1", "0.2", "0.3", "0.4", "0.5", "0.6", "0.7", "0.8", "0.9", "1.0"]
y_ticks_025 = [0.0, 0.25, 0.5, 0.75, 1.0]
y_text_025 = ["0.00", "0.25", "0.50", "0.75", "1.00"]
y_ticks_m02 = [-0.2, 0.0, 0.2, 0.4, 0.6, 0.8, 1.0]
y_text_m02 = ["-0.2", "0.0", "0.2", "0.4", "0.6", "0.8", "1.0"]

titles = ["CDS to girl tokens", "CDS to girl types", "CDS to boy tokens", "CDS to boy types",
          "Girl CS tokens (w/out want+can)", "Girl CS types",
          "Boy CS tokens (w/out want+can)", "Boy CS types"]

# ---------------- Panel configuration (layout only) ----------------
panels = [
    dict(age=p1_age, pts=p1_points, xr=[650, 826], yr=[0, 1.0], xt=x_ticks_650, yt=(y_ticks_01, y_text_01),
         series=[("Modal", p1_modal, p1_modal_lo, p1_modal_hi), ("Past", p1_past, p1_past_lo, p1_past_hi),
                 ("Present", p1_present, p1_present_lo, p1_present_hi)],
         plot=(89, 88, 372, 318), bg=(55, 73, 432, 343), title=(58, 50),
         leg=(375, [80, 90.5, 101]), prop=(61, 203), agel=(231, 336)),
    dict(age=p2_age, pts=p2_points, xr=[600, 823], yr=[0, 1.0], xt=x_ticks_600, yt=(y_ticks_01, y_text_01),
         series=[("Modal", p2_modal, p2_modal_lo, p2_modal_hi), ("Past", p2_past, p2_past_lo, p2_past_hi),
                 ("Present", p2_present, p2_present_lo, p2_present_hi)],
         plot=(506, 81, 790, 311), bg=(473, 68, 845, 335), title=(472, 51),
         leg=(793, [73, 83, 93]), prop=(477, 196), agel=(648, 327)),
    dict(age=p3_age, pts=p3_points, xr=[650, 826], yr=[0, 1.0], xt=x_ticks_650, yt=(y_ticks_01, y_text_01),
         series=[("Modal", p3_modal, p3_modal_lo, p3_modal_hi), ("Past", p3_past, p3_past_lo, p3_past_hi),
                 ("Present", p3_present, p3_present_lo, p3_present_hi)],
         plot=(89, 417, 372, 647), bg=(55, 403, 432, 672), title=(58, 382),
         leg=(375, [408, 419, 429]), prop=(61, 532), agel=(231, 664)),
    dict(age=p4_age, pts=p4_points, xr=[600, 823], yr=[0, 1.0], xt=x_ticks_600, yt=(y_ticks_01, y_text_01),
         series=[("Modal", p4_modal, p4_modal_lo, p4_modal_hi), ("Past", p4_past, p4_past_lo, p4_past_hi),
                 ("Present", p4_present, p4_present_lo, p4_present_hi)],
         plot=(506, 413, 790, 646), bg=(473, 400, 845, 668), title=(472, 379),
         leg=(793, [405, 416, 427]), prop=(477, 530), agel=(648, 661)),
    dict(age=p5_age, pts=p5_points, xr=[650, 826], yr=[0, 1.0], xt=x_ticks_650, yt=(y_ticks_02, y_text_02),
         series=[("Modal", p5_modal, p5_modal_lo, p5_modal_hi), ("Past", p5_past, p5_past_lo, p5_past_hi),
                 ("Present", p5_present, p5_present_lo, p5_present_hi),
                 ("Undefined", p5_undef, p5_undef_lo, p5_undef_hi)],
         plot=(89, 752, 372, 982), bg=(55, 737, 432, 1007), title=(58, 711),
         leg=(374, [743, 753, 764, 775]), prop=(61, 867), agel=(231, 998)),
    dict(age=p6_age, pts=p6_points, xr=[650, 826], yr=[-0.1, 1.0], xt=x_ticks_650, yt=(y_ticks_m01, y_text_m01),
         series=[("Modal", p6_modal, p6_modal_lo, p6_modal_hi), ("Past", p6_past, p6_past_lo, p6_past_hi),
                 ("Present", p6_present, p6_present_lo, p6_present_hi),
                 ("Undefined", p6_undef, p6_undef_lo, p6_undef_hi)],
         plot=(506, 750, 790, 982), bg=(473, 735, 845, 1005), title=(472, 709),
         leg=(792, [743, 752.5, 762, 772]), prop=(477, 866), agel=(648, 996)),
    dict(age=p7_age, pts=p7_points, xr=[600, 826], yr=[0, 1.0], xt=x_ticks_600, yt=(y_ticks_025, y_text_025),
         series=[("Modal", p7_modal, p7_modal_lo, p7_modal_hi), ("Past", p7_past, p7_past_lo, p7_past_hi),
                 ("Present", p7_present, p7_present_lo, p7_present_hi),
                 ("Undefined", p7_undef, p7_undef_lo, p7_undef_hi)],
         plot=(89, 1087, 370, 1317), bg=(53, 1073, 432, 1342), title=(58, 1047),
         leg=(374, [1079, 1089, 1099, 1110]), prop=(59, 1202), agel=(230, 1334)),
    dict(age=p8_age, pts=p8_points, xr=[600, 823], yr=[-0.2, 1.0], xt=x_ticks_600, yt=(y_ticks_m02, y_text_m02),
         series=[("Modal", p8_modal, p8_modal_lo, p8_modal_hi), ("Past", p8_past, p8_past_lo, p8_past_hi),
                 ("Present", p8_present, p8_present_lo, p8_present_hi),
                 ("Undefined", p8_undef, p8_undef_lo, p8_undef_hi)],
         plot=(506, 1088, 789, 1318), bg=(473, 1072, 845, 1342), title=(472, 1047),
         leg=(793, [1081, 1091, 1101, 1111]), prop=(477, 1203), agel=(648, 1333)),
]

STYLE = {
    "Modal": dict(dash="solid", width=1.6),
    "Past": dict(dash="2px,1.6px", width=1.3),
    "Present": dict(dash="5px,3px", width=1.4),
    "Undefined": dict(dash="6px,2px,2px,2px", width=1.3),
}
BAND = "rgba(70,70,70,0.38)"
INK = "#1a1a1a"
SANS = "Liberation Sans, Arial, sans-serif"
SERIF = "Liberation Serif, Times New Roman, serif"


def px(x):
    return x / W


def py(y):
    return 1 - y / H


fig = go.Figure()
shapes = []
annotations = []
layout = dict(width=W, height=H, margin=dict(l=0, r=0, t=0, b=0),
              paper_bgcolor="white", plot_bgcolor="white", showlegend=False, hovermode=False)

# page frame (left and top edges)
shapes.append(dict(type="line", xref="paper", yref="paper", x0=px(4.5), x1=px(4.5), y0=py(2.5), y1=py(1376),
                   line=dict(color="#555", width=1.5)))
shapes.append(dict(type="line", xref="paper", yref="paper", x0=px(4.5), x1=px(895), y0=py(2.5), y1=py(2.5),
                   line=dict(color="#555", width=1.5)))

for i, p in enumerate(panels, start=1):
    xa = "x" if i == 1 else f"x{i}"
    ya = "y" if i == 1 else f"y{i}"
    l, t, r, b = p["plot"]
    bl, bt, br, bb = p["bg"]
    shapes.append(dict(type="rect", xref="paper", yref="paper", x0=px(bl), x1=px(br), y0=py(bb), y1=py(bt),
                       fillcolor="#f6f5f1", line=dict(width=0), layer="below"))
    shapes.append(dict(type="rect", xref="paper", yref="paper", x0=px(l), x1=px(r), y0=py(b), y1=py(t),
                       fillcolor="white", line=dict(width=0), layer="below"))

    # confidence bands
    for name, m, lo, hi in p["series"]:
        fig.add_trace(go.Scatter(x=p["age"], y=lo, mode="lines", line=dict(width=0, shape="spline"),
                                 xaxis=xa, yaxis=ya, hoverinfo="skip"))
        fig.add_trace(go.Scatter(x=p["age"], y=hi, mode="lines", line=dict(width=0, shape="spline"),
                                 fill="tonexty", fillcolor=BAND, xaxis=xa, yaxis=ya, hoverinfo="skip"))
    # points
    fig.add_trace(go.Scatter(x=[q[0] for q in p["pts"]], y=[q[1] for q in p["pts"]], mode="markers",
                             marker=dict(size=3.8, color="#111"), xaxis=xa, yaxis=ya, hoverinfo="skip"))
    # fitted curves
    for name, m, lo, hi in p["series"]:
        st = STYLE[name]
        fig.add_trace(go.Scatter(x=p["age"], y=m, mode="lines",
                                 line=dict(color=INK, width=st["width"], dash=st["dash"], shape="spline"),
                                 xaxis=xa, yaxis=ya, hoverinfo="skip"))

    minor_vals = [v + 25 for v in p["xt"] if p["xr"][0] < v + 25 < p["xr"][1]]
    axis_common = dict(showline=True, mirror=True, linecolor="#c9c9c9", linewidth=1, showgrid=False,
                       zeroline=False, ticks="outside", tickcolor="#a0a0a0",
                       tickfont=dict(family=SANS, size=8, color="#444"), fixedrange=True)
    layout["xaxis" if i == 1 else f"xaxis{i}"] = dict(
        domain=[px(l), px(r)], range=p["xr"], anchor=ya, tickmode="array",
        tickvals=p["xt"], ticktext=[str(v) for v in p["xt"]], ticklen=2, ticklabelstandoff=-3,
        minor=dict(tickmode="array", tickvals=minor_vals, ticks="outside", ticklen=2, tickcolor="#b0b0b0"),
        **axis_common)
    layout["yaxis" if i == 1 else f"yaxis{i}"] = dict(
        domain=[py(b), py(t)], range=p["yr"], anchor=xa, tickmode="array", ticklen=3,
        tickvals=p["yt"][0], ticktext=p["yt"][1], **axis_common)

    annotations.append(dict(text=titles[i - 1], xref="paper", yref="paper", x=px(p["title"][0]),
                            y=py(p["title"][1]), xanchor="left", yanchor="middle", showarrow=False,
                            font=dict(family=SERIF, size=21.5, color="#111")))
    annotations.append(dict(text="Proportion", xref="paper", yref="paper", x=px(p["prop"][0]),
                            y=py(p["prop"][1]), xanchor="center", yanchor="middle", textangle=-90,
                            showarrow=False, font=dict(family=SANS, size=6, color="#444")))
    annotations.append(dict(text="Age", xref="paper", yref="paper", x=px(p["agel"][0]),
                            y=py(p["agel"][1]), xanchor="center", yanchor="middle",
                            showarrow=False, font=dict(family=SANS, size=6, color="#444")))
    lx, rows = p["leg"]
    for (name, m, lo, hi), ry in zip(p["series"], rows):
        st = STYLE[name]
        shapes.append(dict(type="line", xref="paper", yref="paper", x0=px(lx), x1=px(lx + 13),
                           y0=py(ry), y1=py(ry), line=dict(color=INK, width=st["width"], dash=st["dash"])))
        annotations.append(dict(text=name, xref="paper", yref="paper", x=px(lx + 13.5), y=py(ry),
                                xanchor="left", yanchor="middle", showarrow=False,
                                font=dict(family=SANS, size=7.7, color="#333")))

layout["shapes"] = shapes
layout["annotations"] = annotations
fig.update_layout(**layout)
fig.write_html("out.html", config={"displayModeBar": False, "staticPlot": True},
               post_script="document.body.style.margin='0';document.body.style.overflow='hidden';")
